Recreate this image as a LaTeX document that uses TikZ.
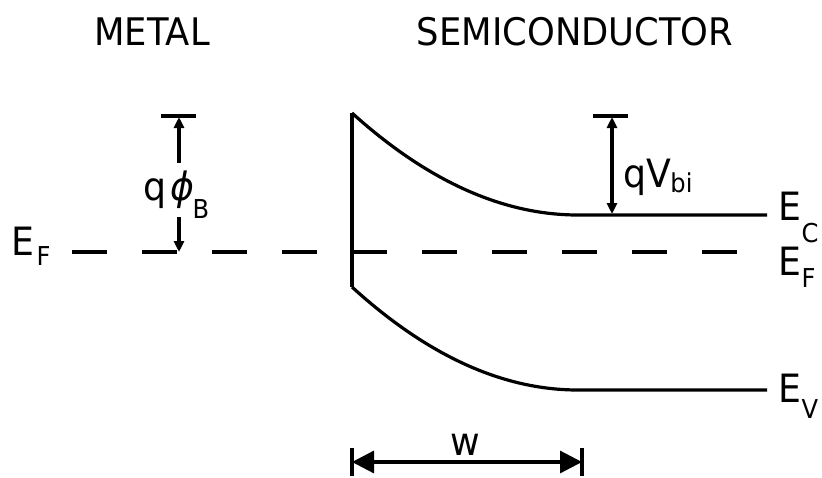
\documentclass[tikz,border=0pt]{standalone}
\usepackage{fontspec}
\setmainfont{DejaVu Sans}[FakeStretch=0.93]
\usetikzlibrary{arrows.meta}
\newcommand\lowsub[2]{\raisebox{-#1pt}{\fontsize{26}{26}\selectfont #2}}
\begin{document}
\begin{tikzpicture}[x=1pt,y=-1pt,line width=3.2pt,
  lbl/.style={font=\fontsize{39}{42}\selectfont, inner sep=0pt},
  title/.style={font=\fontsize{38}{42}\selectfont, inner sep=0pt, anchor=base},
  smalltip/.style={-{Triangle[length=11pt,width=10pt]}},
  bigtips/.style={{Triangle[length=22pt,width=22pt]}-{Triangle[length=22pt,width=22pt]}},
  fermi/.style={dash pattern=on 35pt off 35pt}]
\useasboundingbox (0,0) rectangle (822,477);

% titles
\node[title] (metal) at (152,45) {METAL};
\node[title] (semi) at (575,45) {SEMICONDUCTOR};

% Fermi level
\coordinate (efL) at (72,252);
\coordinate (efR) at (737,252);
\draw[fermi] (efL) -- (efR);

% interface
\coordinate (ifT) at (352,113);
\coordinate (ifB) at (352,287);
\draw (ifT) -- (ifB);

% conduction band
\coordinate (ecE) at (578,215);
\coordinate (ecR) at (767,215);
\draw plot[domain=0:1,samples=60] ({352+226*\x},{215-102*(1-\x)*(1-\x)}) -- (ecR);

% valence band
\coordinate (evE) at (578,390);
\coordinate (evR) at (767,390);
\draw plot[domain=0:1,samples=60] ({352+226*\x},{390-103*(1-\x)*(1-\x)}) -- (evR);

% q phi_B
\coordinate (pbL) at (161,116);
\coordinate (pbR) at (196,116);
\draw (pbL) -- (pbR);
\coordinate (pbTop) at (179,117);
\coordinate (pbA) at (179,163);
\coordinate (pbB) at (179,217);
\coordinate (pbBot) at (179,252);
\draw[smalltip] (pbA) -- (pbTop);
\draw[smalltip] (pbB) -- (pbBot);
\node[lbl, anchor=base west] (qphi) at (142,200) {q\kern4pt\itshape ϕ\upshape\kern-2pt\lowsub{18}{B}};

% q V_bi
\coordinate (vbL) at (593,116);
\coordinate (vbR) at (628,116);
\draw (vbL) -- (vbR);
\coordinate (vbTop) at (612,117);
\coordinate (vbBot) at (612,214);
\draw[{Triangle[length=11pt,width=10pt]}-{Triangle[length=11pt,width=10pt]}] (vbTop) -- (vbBot);
\node[lbl, anchor=base west] (qvbi) at (622,187) {qV\kern-1pt\lowsub{5}{bi}};

% band labels
\node[lbl, anchor=base west] (efLbl) at (10,255) {E\kern2pt\lowsub{10}{F}};
\node[lbl, anchor=base west] (ecLbl) at (777,220) {E\lowsub{22}{C}};
\node[lbl, anchor=base west] (efRLbl) at (777,275) {E\lowsub{12}{F}};
\node[lbl, anchor=base west] (evLbl) at (777,402) {E\lowsub{16}{V}};

% depletion width
\coordinate (wL) at (352,462);
\coordinate (wR) at (582,462);
\coordinate (wLt) at (352,448);
\coordinate (wLb) at (352,476);
\coordinate (wRt) at (582,448);
\coordinate (wRb) at (582,476);
\draw (wLt) -- (wLb);
\draw (wRt) -- (wRb);
\draw[bigtips] (wL) -- (wR);
\node[lbl, anchor=base] (wLbl) at (465,455) {w};
\end{tikzpicture}
\end{document}
